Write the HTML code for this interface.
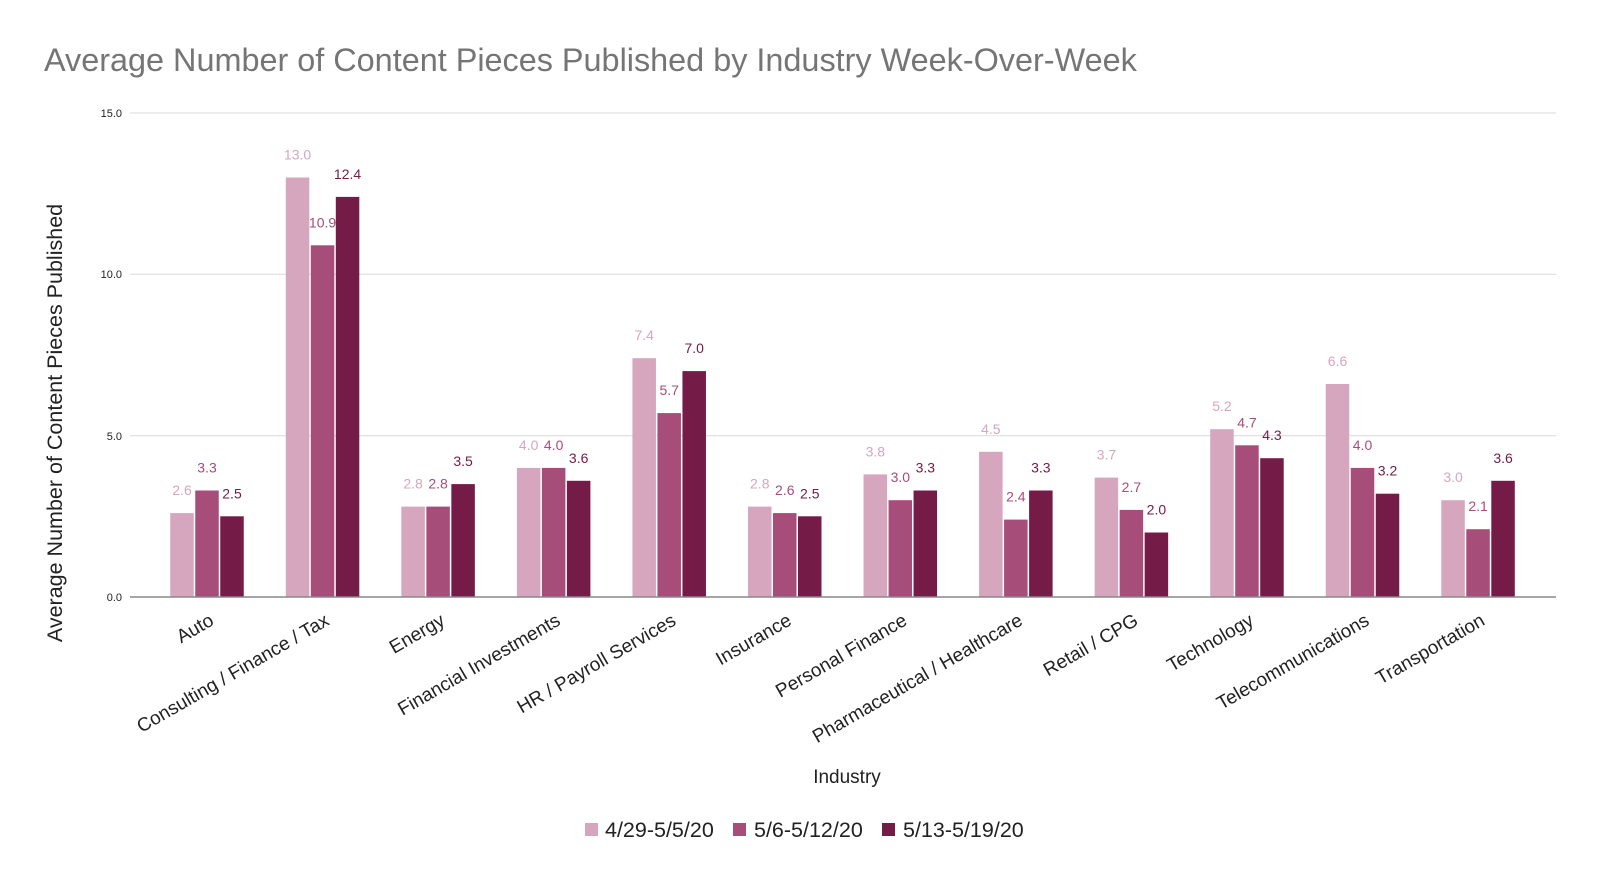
<!DOCTYPE html>
<html><head><meta charset="utf-8"><style>
html,body{margin:0;padding:0;background:#fff;}
svg{display:block;font-family:"Liberation Sans",Arial,sans-serif;}
</style></head><body>
<svg width="1600" height="881" viewBox="0 0 1600 881" xmlns="http://www.w3.org/2000/svg">
<rect width="1600" height="881" fill="#fff"/>
<text x="44" y="71" font-size="32.4" fill="#757575">Average Number of Content Pieces Published by Industry Week-Over-Week</text>
<g stroke="#d9d9d9" stroke-width="1">
<line x1="130" x2="1556" y1="113" y2="113"/>
<line x1="130" x2="1556" y1="274.3" y2="274.3"/>
<line x1="130" x2="1556" y1="435.7" y2="435.7"/>
</g>
<g font-size="11" fill="#222" text-anchor="end">
<text x="122" y="117">15.0</text>
<text x="122" y="278">10.0</text>
<text x="122" y="440">5.0</text>
<text x="122" y="601">0.0</text>
</g>
<text transform="translate(62,423) rotate(-90)" font-size="21.5" fill="#222" text-anchor="middle">Average Number of Content Pieces Published</text>

<g font-size="14" text-anchor="middle">
<g transform="translate(207,0)">
<rect x="-36.75" y="513.1" width="23.5" height="83.9" fill="#d5a6bd"/><rect x="-11.75" y="490.5" width="23.5" height="106.5" fill="#a64d79"/><rect x="13.25" y="516.3" width="23.5" height="80.7" fill="#741b47"/>
<text x="-25" y="495.1" fill="#d5a6bd">2.6</text><text x="0" y="472.5" fill="#a64d79">3.3</text><text x="25" y="498.3" fill="#741b47">2.5</text></g>
<g transform="translate(322.55,0)">
<rect x="-36.75" y="177.5" width="23.5" height="419.5" fill="#d5a6bd"/><rect x="-11.75" y="245.3" width="23.5" height="351.7" fill="#a64d79"/><rect x="13.25" y="196.9" width="23.5" height="400.1" fill="#741b47"/>
<text x="-25" y="159.5" fill="#d5a6bd">13.0</text><text x="0" y="227.3" fill="#a64d79">10.9</text><text x="25" y="178.9" fill="#741b47">12.4</text></g>
<g transform="translate(438.1,0)">
<rect x="-36.75" y="506.6" width="23.5" height="90.4" fill="#d5a6bd"/><rect x="-11.75" y="506.6" width="23.5" height="90.4" fill="#a64d79"/><rect x="13.25" y="484.1" width="23.5" height="112.9" fill="#741b47"/>
<text x="-25" y="488.6" fill="#d5a6bd">2.8</text><text x="0" y="488.6" fill="#a64d79">2.8</text><text x="25" y="466.1" fill="#741b47">3.5</text></g>
<g transform="translate(553.65,0)">
<rect x="-36.75" y="467.9" width="23.5" height="129.1" fill="#d5a6bd"/><rect x="-11.75" y="467.9" width="23.5" height="129.1" fill="#a64d79"/><rect x="13.25" y="480.8" width="23.5" height="116.2" fill="#741b47"/>
<text x="-25" y="449.9" fill="#d5a6bd">4.0</text><text x="0" y="449.9" fill="#a64d79">4.0</text><text x="25" y="462.8" fill="#741b47">3.6</text></g>
<g transform="translate(669.2,0)">
<rect x="-36.75" y="358.2" width="23.5" height="238.8" fill="#d5a6bd"/><rect x="-11.75" y="413.1" width="23.5" height="183.9" fill="#a64d79"/><rect x="13.25" y="371.1" width="23.5" height="225.9" fill="#741b47"/>
<text x="-25" y="340.2" fill="#d5a6bd">7.4</text><text x="0" y="395.1" fill="#a64d79">5.7</text><text x="25" y="353.1" fill="#741b47">7.0</text></g>
<g transform="translate(784.75,0)">
<rect x="-36.75" y="506.6" width="23.5" height="90.4" fill="#d5a6bd"/><rect x="-11.75" y="513.1" width="23.5" height="83.9" fill="#a64d79"/><rect x="13.25" y="516.3" width="23.5" height="80.7" fill="#741b47"/>
<text x="-25" y="488.6" fill="#d5a6bd">2.8</text><text x="0" y="495.1" fill="#a64d79">2.6</text><text x="25" y="498.3" fill="#741b47">2.5</text></g>
<g transform="translate(900.3,0)">
<rect x="-36.75" y="474.4" width="23.5" height="122.6" fill="#d5a6bd"/><rect x="-11.75" y="500.2" width="23.5" height="96.8" fill="#a64d79"/><rect x="13.25" y="490.5" width="23.5" height="106.5" fill="#741b47"/>
<text x="-25" y="456.4" fill="#d5a6bd">3.8</text><text x="0" y="482.2" fill="#a64d79">3.0</text><text x="25" y="472.5" fill="#741b47">3.3</text></g>
<g transform="translate(1015.85,0)">
<rect x="-36.75" y="451.8" width="23.5" height="145.2" fill="#d5a6bd"/><rect x="-11.75" y="519.6" width="23.5" height="77.4" fill="#a64d79"/><rect x="13.25" y="490.5" width="23.5" height="106.5" fill="#741b47"/>
<text x="-25" y="433.8" fill="#d5a6bd">4.5</text><text x="0" y="501.6" fill="#a64d79">2.4</text><text x="25" y="472.5" fill="#741b47">3.3</text></g>
<g transform="translate(1131.4,0)">
<rect x="-36.75" y="477.6" width="23.5" height="119.4" fill="#d5a6bd"/><rect x="-11.75" y="509.9" width="23.5" height="87.1" fill="#a64d79"/><rect x="13.25" y="532.5" width="23.5" height="64.5" fill="#741b47"/>
<text x="-25" y="459.6" fill="#d5a6bd">3.7</text><text x="0" y="491.9" fill="#a64d79">2.7</text><text x="25" y="514.5" fill="#741b47">2.0</text></g>
<g transform="translate(1246.95,0)">
<rect x="-36.75" y="429.2" width="23.5" height="167.8" fill="#d5a6bd"/><rect x="-11.75" y="445.3" width="23.5" height="151.7" fill="#a64d79"/><rect x="13.25" y="458.2" width="23.5" height="138.8" fill="#741b47"/>
<text x="-25" y="411.2" fill="#d5a6bd">5.2</text><text x="0" y="427.3" fill="#a64d79">4.7</text><text x="25" y="440.2" fill="#741b47">4.3</text></g>
<g transform="translate(1362.5,0)">
<rect x="-36.75" y="384" width="23.5" height="213" fill="#d5a6bd"/><rect x="-11.75" y="467.9" width="23.5" height="129.1" fill="#a64d79"/><rect x="13.25" y="493.7" width="23.5" height="103.3" fill="#741b47"/>
<text x="-25" y="366" fill="#d5a6bd">6.6</text><text x="0" y="449.9" fill="#a64d79">4.0</text><text x="25" y="475.7" fill="#741b47">3.2</text></g>
<g transform="translate(1478.05,0)">
<rect x="-36.75" y="500.2" width="23.5" height="96.8" fill="#d5a6bd"/><rect x="-11.75" y="529.2" width="23.5" height="67.8" fill="#a64d79"/><rect x="13.25" y="480.8" width="23.5" height="116.2" fill="#741b47"/>
<text x="-25" y="482.2" fill="#d5a6bd">3.0</text><text x="0" y="511.2" fill="#a64d79">2.1</text><text x="25" y="462.8" fill="#741b47">3.6</text></g>
</g>

<line x1="130" x2="1556" y1="597" y2="597" stroke="#888" stroke-width="1.5"/>

<g font-size="19" fill="#222" text-anchor="end">
<text transform="translate(215,624) rotate(-30)">Auto</text>
<text transform="translate(330.55,624) rotate(-30)">Consulting / Finance / Tax</text>
<text transform="translate(446.1,624) rotate(-30)">Energy</text>
<text transform="translate(561.65,624) rotate(-30)">Financial Investments</text>
<text transform="translate(677.2,624) rotate(-30)">HR / Payroll Services</text>
<text transform="translate(792.75,624) rotate(-30)">Insurance</text>
<text transform="translate(908.3,624) rotate(-30)">Personal Finance</text>
<text transform="translate(1023.85,624) rotate(-30)">Pharmaceutical / Healthcare</text>
<text transform="translate(1139.4,624) rotate(-30)">Retail / CPG</text>
<text transform="translate(1254.95,624) rotate(-30)">Technology</text>
<text transform="translate(1370.5,624) rotate(-30)">Telecommunications</text>
<text transform="translate(1486.05,624) rotate(-30)">Transportation</text>
</g>

<text x="847" y="783" font-size="19" fill="#222" text-anchor="middle">Industry</text>
<g font-size="21.5" fill="#222">
<rect x="585" y="823" width="13" height="13" fill="#d5a6bd"/><text x="605" y="837">4/29-5/5/20</text>
<rect x="733" y="823" width="13" height="13" fill="#a64d79"/><text x="754" y="837">5/6-5/12/20</text>
<rect x="882" y="823" width="13" height="13" fill="#741b47"/><text x="903" y="837">5/13-5/19/20</text>
</g>
</svg>
</body></html>
